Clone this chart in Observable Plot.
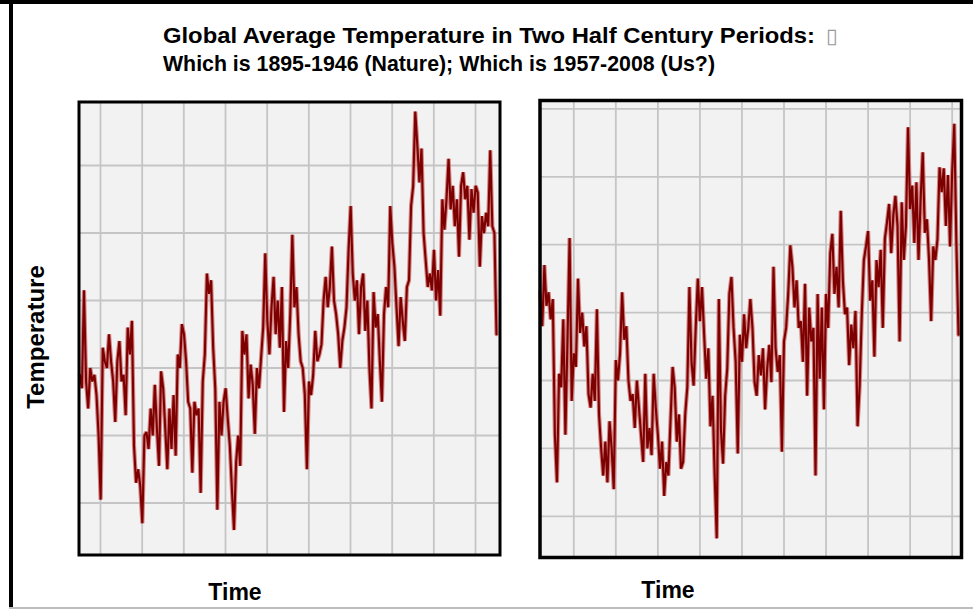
<!DOCTYPE html>
<html>
<head>
<meta charset="utf-8">
<script src="https://cdn.jsdelivr.net/npm/d3@7"></script>
<script src="https://cdn.jsdelivr.net/npm/@observablehq/plot@0.6"></script>
<style>
html, body { margin: 0; padding: 0; background: #fff; }
#page { position: relative; width: 973px; height: 611px; overflow: hidden; background: #fff; }
.abs { position: absolute; }
#overlay { position: absolute; left: 0; top: 0; pointer-events: none; }
#overlay text { font-family: "Liberation Sans", Arial, Helvetica, sans-serif; font-weight: bold; fill: #000; }
</style>
</head>
<body>
<div id="page">
  <div class="abs" style="left:0;top:0;width:973px;height:4px;background:#000"></div>
  <div class="abs" style="left:9px;top:0;width:4px;height:608px;background:#000"></div>
  <div class="abs" style="left:9px;top:607px;width:964px;height:2px;background:#bdbdbd"></div>
  <div class="abs" id="leftPanel" style="left:60px;top:90px"></div>
  <div class="abs" id="rightPanel" style="left:520px;top:85px"></div>
  <svg id="overlay" width="973" height="611"></svg>
</div>
<script>
// ---- Text ----
const titleLines = [
  "Global Average Temperature in Two Half Century Periods:",
  "Which is 1895-1946 (Nature); Which is 1957-2008 (Us?)"
];
const yAxisLabel = "Temperature";
const xAxisLabel = "Time";

// ---- Data: temperature anomaly (hundredths of a degree), quarterly samples ----
const leftStartYear = 1895.52;   // first half-century panel (1895-1946)
const rightStartYear = 1957.0;   // second half-century panel (1957-2008)
const sampleStep = 0.25;         // years between samples

const leftTemps = [
  -11,-13,1.5,-12,-16,-10,-12,-11,-14,-20,
  -29.5,-7,-9,-10,-5,-9,-12,-18,-9,-6,
  -12,-11,-17,-4,-8,-3,-21.5,-27,-25,-27.5,
  -33,-20,-19.5,-22,-16,-20,-12.5,-19,-24.5,-10.5,
  -13,-19,-25,-16,-22,-14,-23,-8,-10,-3.5,
  -5,-9,-15,-16,-25.5,-15,-17,-16,-28.5,-12,
  -8,4,1,3,-7,-13,-31,-15,
  -20,-15,-13,-17.5,-21.5,-28,-34,-24,-20,-24.5,
  -4.5,-8,-5,-14.5,-9.5,-12.5,-19.75,-10,-13,-8.5,
  -4,7,-3,-8,-1,3.5,-5,0,-7,2,
  -16.5,-6,-10,-2,9.75,-1,2,-5,-9,-10,
  -14,-25,-12,-14,-11,-4.5,-9,-8,-6.5,0,
  3.5,-1,2,8,0,-2,-5,-10,-6,-4,
  -1,7.5,14,4,0,3,-5,2,
  4,-4.5,0,-10,-16,1.25,-4,-2,-9,-15,
  -2,2,-1,14,8.5,5,-1,-6.75,0.5,-3,
  -6,2,3,14,17,28,23,17.5,22.5,10,
  6,2,4,1.5,7.5,0,4.5,-2.25,15,10.5,
  15,21,13.5,17,11,15,6.5,17,19,15,
  17,9,16.5,13,17,16,5,12.5,10,13,
  11,22.25,11,10,-5
];

const rightTemps = [
  13,8,17,11,13,9,12,-8,-15,1,
  -1,9,-8,6,21,-3,4,2,15,7,
  10,5,8,-2,-4,1,-3,10.5,-5,-10,
  -14,-9,-15,-6,-10,-16,3,0,4,13,
  6,8,0,-3,-2,-7,0,-4,-8,-12,
  1,-10,-7,-11,1,-4,-8,-13,-9,-17,
  -12,-14,-6,2,-1,-9,-5,-13,
  -12,-5,-1,13.75,2.75,-0.75,7.75,15,8.75,13.75,
  6.75,0.25,4.75,-6.75,-2.25,-13.75,-23.25,12,-7.25,-12.25,
  -2.25,1.75,12.75,15.25,7.75,2.75,-10.75,6.75,2.75,9.75,
  4.75,7.75,12,7.75,-0.25,-2.25,3.75,0.75,4.75,-4.25,
  1.75,5.25,-0.25,16.75,4.75,1.25,3.75,-10.5,5.75,7.75,
  12.75,19.9,16.75,10.75,14.75,7.75,8.75,2.75,14.25,-2.25,
  10.75,5.75,7.75,-14,12.75,0.25,10.75,
  -4.25,12.75,7.75,18.75,21.6,12.75,16.75,10.75,25,14.75,
  9.75,10.75,2.25,8.25,4.75,10.25,-6.75,-0.75,9.75,17.75,
  19.75,22,11.75,14.75,3.5,17.75,13.75,19.25,7.75,20.9,
  23.3,26,18.75,24.3,27.2,22.75,5.75,26.25,17.75,22.75,
  37.3,25.25,28.7,20.25,29.2,17.75,26.75,33.6,21.75,23.75,
  17.75,8.75,19.75,17.75,20.75,31.4,27.75,31.25,22.75,30.25,
  19.75,30.75,37.8,20.25,6.75
];

// grid positions (years / anomaly values)
const leftGridYears = [1898,1903,1908,1913,1918,1923,1928,1933,1938,1943];
const rightGridYears = [1961,1966,1971,1976,1981,1986,1991,1996,2001,2006];
const leftGridTemps = [-30,-20,-10,0,10,20];
const rightGridTemps = [-20,-10,0,10,20,30,40];

function toRows(values, start) {
  return values.map((v, i) => ({year: start + i * sampleStep, temp: v}));
}

function panel(rows, opts) {
  return Plot.plot({
    width: opts.width,
    height: opts.height,
    marginLeft: opts.ml, marginRight: opts.mr, marginTop: opts.mt, marginBottom: opts.mb,
    x: {domain: opts.xDomain, axis: null},
    y: {domain: opts.yDomain, axis: null},
    style: {background: "transparent", overflow: "visible"},
    marks: [
      Plot.frame({fill: "#f2f2f2", stroke: null}),
      Plot.ruleX(opts.xGrid, {stroke: "#c5c5c5", strokeWidth: 1.8}),
      Plot.ruleY(opts.yGrid, {stroke: "#c5c5c5", strokeWidth: 1.8}),
      Plot.line(rows, {x: "year", y: "temp", stroke: "#cf7070", strokeWidth: 4.2, strokeLinejoin: "miter", strokeOpacity: 0.85}),
      Plot.line(rows, {x: "year", y: "temp", stroke: "#7d0000", strokeWidth: 2.1, strokeLinejoin: "miter"}),
      Plot.frame({stroke: "#000", strokeWidth: opts.frameWidth})
    ]
  });
}

document.getElementById("leftPanel").appendChild(panel(toRows(leftTemps, leftStartYear), {
  width: 460, height: 480, ml: 18.5, mr: 20.5, mt: 11.5, mb: 15.5,
  xDomain: [1895.42, 1945.94], yDomain: [-37.70, 29.41],
  xGrid: leftGridYears, yGrid: leftGridTemps, frameWidth: 3
}));

document.getElementById("rightPanel").appendChild(panel(toRows(rightTemps, rightStartYear), {
  width: 453, height: 490, ml: 19.5, mr: 12, mt: 15, mb: 18,
  xDomain: [1956.98, 2007.11], yDomain: [-26.07, 41.24],
  xGrid: rightGridYears, yGrid: rightGridTemps, frameWidth: 3.5
}));

// ---- Texts ----
const svg = d3.select("#overlay");
svg.append("text").attr("x", 163).attr("y", 43).style("font-size", "22px")
  .attr("textLength", 652).attr("lengthAdjust", "spacingAndGlyphs").text(titleLines[0]);
svg.append("text").attr("x", 826).attr("y", 43).style("font-size", "21px").style("font-weight", "normal")
  .style("fill", "#9a9a9a").style("font-family", "'DejaVu Sans'").text("\u25AF");
svg.append("text").attr("x", 163).attr("y", 71).style("font-size", "22px")
  .attr("textLength", 552).attr("lengthAdjust", "spacingAndGlyphs").text(titleLines[1]);
svg.append("text").attr("transform", "translate(44,337) rotate(-90)").attr("text-anchor", "middle")
  .style("font-size", "24px").text(yAxisLabel);
svg.append("text").attr("x", 235).attr("y", 600).attr("text-anchor", "middle").style("font-size", "23px").text(xAxisLabel);
svg.append("text").attr("x", 668).attr("y", 598).attr("text-anchor", "middle").style("font-size", "23px").text(xAxisLabel);
</script>
</body>
</html>
